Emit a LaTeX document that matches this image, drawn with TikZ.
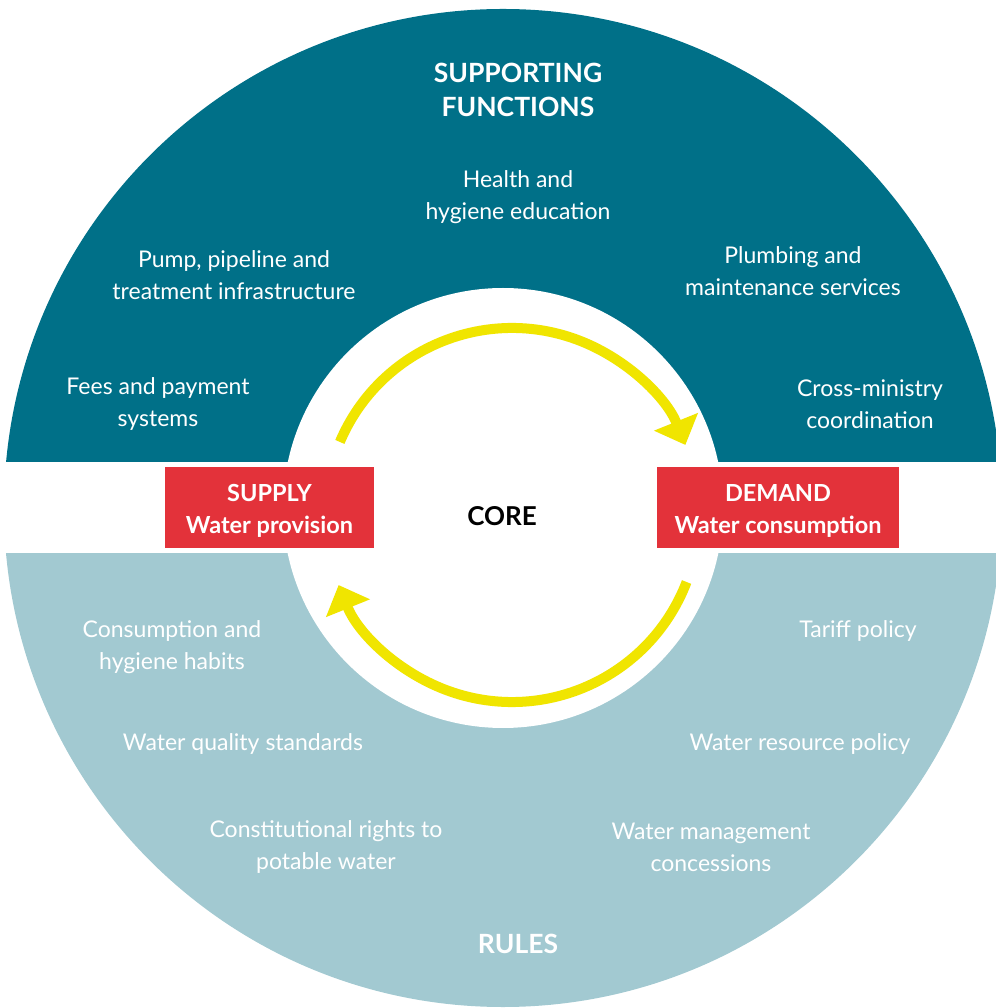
\documentclass[tikz,border=0pt]{standalone}
\usepackage{fontspec}
\setmainfont{Lato}
\usepackage{xcolor}
\definecolor{ringtop}{RGB}{0,112,136}
\definecolor{ringlow}{RGB}{162,201,209}
\definecolor{corered}{RGB}{227,50,58}
\definecolor{flowyellow}{RGB}{240,229,0}
\usetikzlibrary{arrows.meta}
\tikzset{
  item/.style={text=white,align=center,font=\fontsize{23}{32}\selectfont},
  heading/.style={text=white,align=center,font=\bfseries\fontsize{26.5}{34}\selectfont},
  sidebox/.style={fill=corered,inner sep=0pt,minimum height=81pt},
  sidetext/.style={text=white,align=center,font=\bfseries\fontsize{23.5}{32}\selectfont},
  flow/.style={flowyellow,line width=10pt,-{Triangle[length=25pt,width=46pt]}}
}

\begin{document}
\begin{tikzpicture}[x=1pt,y=1pt]
        \useasboundingbox (-503,-500) rectangle (492,508);
        \begin{scope}
          \clip (-510,46) rectangle (510,520);
          \fill[ringtop] (0,0) circle [radius=499];
        \end{scope}
        \begin{scope}
          \clip (-510,-46) rectangle (510,-520);
          \fill[ringlow] (0,0) circle [radius=499];
        \end{scope}
        \fill[white] (0,0) circle [radius=220];
        % supporting functions
        \node[heading] (supfun) at (15,418) {SUPPORTING\\FUNCTIONS};
        \node[item] (health) at (15,311) {Health and\\hygiene education};
        \node[item] (pump) at (-269,233) {Pump, pipeline and\\treatment infrastructure};
        \node[item] (plumb) at (290,237) {Plumbing and\\maintenance services};
        \node[item] (fees) at (-345,104) {Fees and payment\\systems};
        \node[item] (cross) at (367,104) {Cross-ministry\\coordination};
        % core
        \node[sidebox,minimum width=209pt] (supply) at (-233.5,0) {};
        \node[sidetext] (supplytext) at ([yshift=-3pt]supply.center) {SUPPLY\\Water provision};
        \node[sidebox,minimum width=242pt] (demand) at (275,0) {};
        \node[sidetext] (demandtext) at ([yshift=-3pt]demand.center) {DEMAND\\Water consumption};
        \node[font=\bfseries\fontsize{26}{30}\selectfont] (core) at (-1,-8) {CORE};
        \draw[flow] (9,-7) ++(157:187) arc [start angle=157,end angle=22,radius=187];
        \draw[flow] (9,-7) ++(-21:187) arc [start angle=-21,end angle=-158,radius=187];
        % rules
        \node[item] (habits) at (-331,-139) {Consumption and\\hygiene habits};
        \node[item] (tariff) at (355,-123) {Tariff policy};
        \node[item] (quality) at (-260,-236) {Water quality standards};
        \node[item] (resource) at (297,-236) {Water resource policy};
        \node[item] (rights) at (-177,-339) {Constitutional rights to\\potable water};
        \node[item] (concess) at (208,-339) {Water management\\concessions};
        \node[heading] (rules) at (15,-436) {RULES};
      \end{tikzpicture}
\end{document}
